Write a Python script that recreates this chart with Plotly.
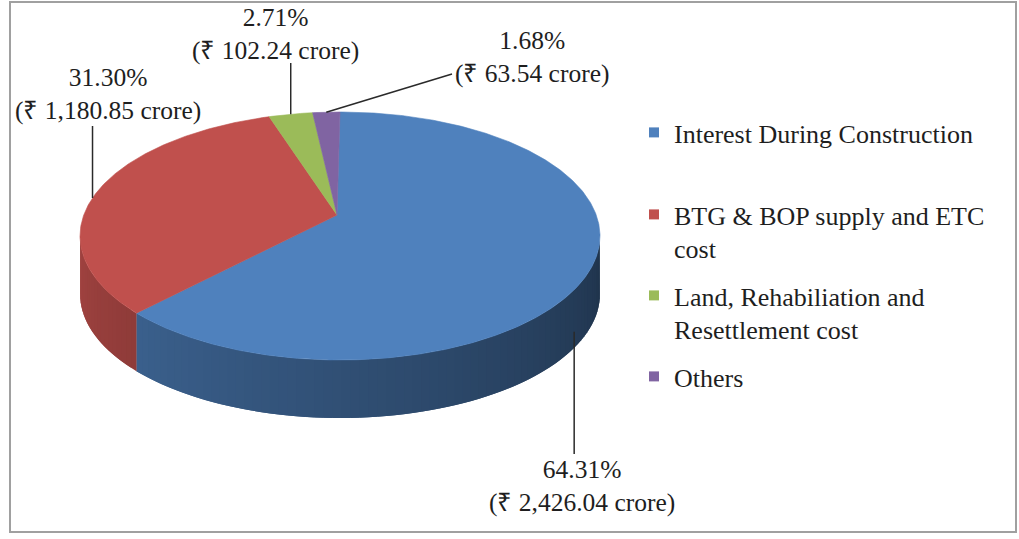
import numpy as np
import plotly.graph_objects as go

# ---------------- data ----------------
categories = ["Interest During Construction",
              "BTG & BOP supply and ETC cost",
              "Land, Rehabiliation and Resettlement cost",
              "Others"]
legend_labels = ["Interest During Construction",
                 "BTG & BOP supply and ETC<br>cost",
                 "Land, Rehabiliation and<br>Resettlement cost",
                 "Others"]
shares = [64.31, 31.30, 2.71, 1.68]            # percent
amounts = ["2,426.04", "1,180.85", "102.24", "63.54"]  # ₹ crore
colors = ["#4F81BD", "#C0504D", "#9BBB59", "#8064A2"]

# ---------------- layout / style ----------------
W, H = 1019, 539
cx, cy, rx, ry, depth = 340, 236, 260, 124, 58   # 3-D pie geometry (px)
apex_dy = -21                                     # perspective offset of the pie centre
FONT = "Liberation Serif"
FS_LEG = 26
FS_LAB = 25.5
TXT = "#1e1e1e"

# label text centres and leader-line end points (layout only)
label_pos = [(582, 486), (108, 94), (275, 34), (532, 57)]
leader_end = [(None, 454), (None, 126), (None, 63), (452, 74)]
leader_on_side = [True, False, False, False]


def rim(phi_deg, dy=0.0):
    p = np.radians(phi_deg)
    return cx + rx * np.sin(p), cy - ry * np.cos(p) + dy


def shade(hex_color, f):
    h = hex_color.lstrip("#")
    r, g, b = (int(h[i:i + 2], 16) for i in (0, 2, 4))
    return "rgb(%d,%d,%d)" % (r * f, g * f, b * f)


total = sum(shares)
cum = np.concatenate([[0.0], np.cumsum(shares)]) / total * 360.0

fig = go.Figure()

# side walls (front half only: 90..270 deg clockwise from 12 o'clock)
for i, c in enumerate(colors):
    a, b = cum[i], cum[i + 1]
    lo, hi = max(a, 90.0), min(b, 270.0)
    if lo >= hi:
        continue
    n = max(1, int(np.ceil((hi - lo) / 2.0)))
    edges = np.linspace(lo, hi, n + 1)
    for k in range(n):
        # each strip overlaps the next one, which is drawn on top -> no seams
        ph = np.linspace(edges[k], edges[min(k + 2, n)], 8)
        tx, ty = rim(ph)
        bx, by = rim(ph[::-1], depth)
        t = (270.0 - (edges[k] + edges[k + 1]) / 2.0) / 180.0
        f = 0.84 - 0.44 * t
        col = shade(c, f)
        fig.add_trace(go.Scatter(
            x=np.concatenate([tx, bx, tx[:1]]),
            y=np.concatenate([ty, by, ty[:1]]),
            mode="lines", fill="toself", fillcolor=col,
            line=dict(color=col, width=0),
            hoverinfo="skip", showlegend=False))

# top faces
ax_, ay_ = cx - 3, cy + apex_dy
for i, c in enumerate(colors):
    ph = np.linspace(cum[i], cum[i + 1], max(4, int((cum[i + 1] - cum[i]) * 2)))
    px, py = rim(ph)
    fig.add_trace(go.Scatter(
        x=np.concatenate([[ax_], px, [ax_]]),
        y=np.concatenate([[ay_], py, [ay_]]),
        mode="lines", fill="toself", fillcolor=c,
        line=dict(color=c, width=0.6),
        name=categories[i], hovertemplate=f"{categories[i]}: {shares[i]:.2f}%<extra></extra>",
        showlegend=False))

# legend entries (one legend box per entry, placed like the original)
legend_tops = [109, 191, 272, 353]
for i, c in enumerate(colors):
    lname = "legend" if i == 0 else f"legend{i + 1}"
    fig.add_trace(go.Scatter(
        x=[None], y=[None], mode="markers",
        marker=dict(symbol="square", size=10, color=c),
        name=legend_labels[i], legend=lname, showlegend=True))
    fig.update_layout(**{lname: dict(
        x=634 / W, y=1 - legend_tops[i] / H, xanchor="left", yanchor="top",
        font=dict(family=FONT, size=FS_LEG, color=TXT),
        bgcolor="rgba(0,0,0,0)", valign="top", itemclick=False,
        itemdoubleclick=False, tracegroupgap=0)})

# data labels with leader lines
for i in range(len(shares)):
    mid = (cum[i] + cum[i + 1]) / 2.0
    tx, ty = rim(mid, depth * 0.72 if leader_on_side[i] else 0.0)
    ex, ey = leader_end[i]
    ex = tx if ex is None else ex
    fig.add_shape(type="line", x0=float(tx), y0=float(ty), x1=ex, y1=ey,
                  xref="x", yref="y", line=dict(color="#2a2a2a", width=1.5))
    lx, lyc = label_pos[i]
    fig.add_annotation(x=lx, y=lyc, xref="x", yref="y",
                       text=f"{shares[i]:.2f}%<br>(₹ {amounts[i]} crore)",
                       showarrow=False, xanchor="center", yanchor="middle",
                       font=dict(family=FONT, size=FS_LAB, color=TXT))

# chart border
fig.add_shape(type="rect", xref="x", yref="y", x0=10, y0=2, x1=1016, y1=532,
              line=dict(color="#a0a0a0", width=2), fillcolor="rgba(0,0,0,0)",
              layer="below")

fig.update_layout(
    width=W, height=H, margin=dict(l=0, r=0, t=0, b=0),
    paper_bgcolor="white", plot_bgcolor="white",
    xaxis=dict(range=[0, W], visible=False, fixedrange=True),
    yaxis=dict(range=[H, 0], visible=False, fixedrange=True),
    showlegend=True,
)

fig.write_html("out.html")
